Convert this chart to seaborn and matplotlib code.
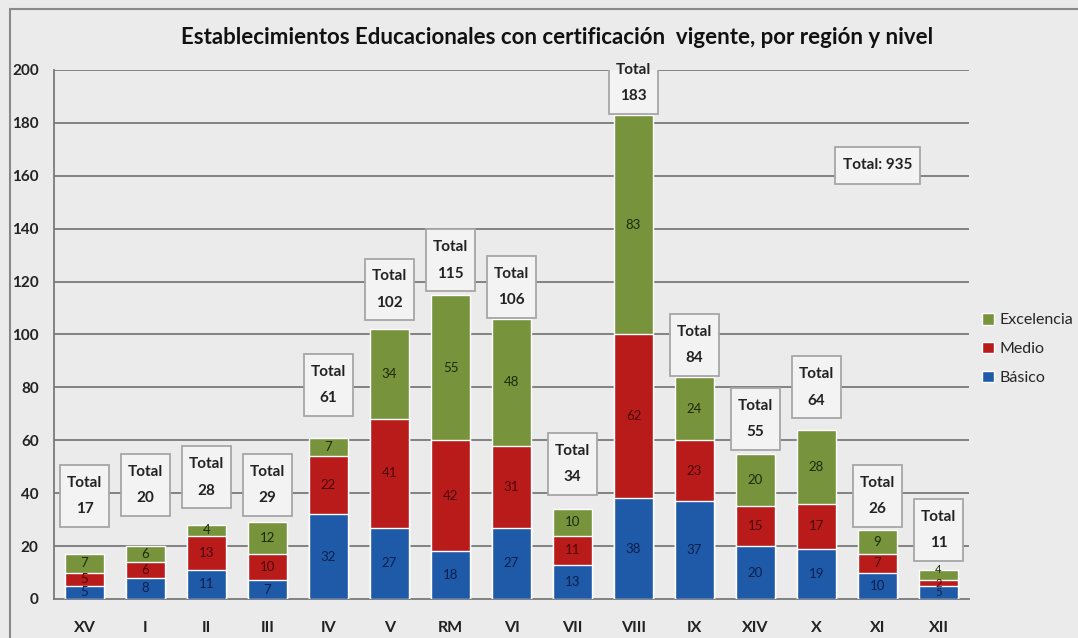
import matplotlib
matplotlib.use("Agg")
import matplotlib.pyplot as plt
from matplotlib.patches import Rectangle, Patch
import seaborn as sns
import pandas as pd

# Region order and counts per certification level
regions = ["XV", "I", "II", "III", "IV", "V", "RM", "VI", "VII", "VIII", "IX", "XIV", "X", "XI", "XII"]
basico = [5, 8, 11, 7, 32, 27, 18, 27, 13, 38, 37, 20, 19, 10, 5]
medio = [5, 6, 13, 10, 22, 41, 42, 31, 11, 62, 23, 15, 17, 7, 2]
excelencia = [7, 6, 4, 12, 7, 34, 55, 48, 10, 83, 24, 20, 28, 9, 4]
y_ticks = [0, 20, 40, 60, 80, 100, 120, 140, 160, 180, 200]

# Vertical centre (in axis units) of each "Total" callout box
callout_y = [39, 43, 46, 43, 81, 117, 128, 118, 51, 195, 96, 68, 80, 39, 26]

C_EXC = "#77933c"
C_MED = "#b91b1b"
C_BAS = "#1f5aa8"
BG = "#ebebeb"
GRID = "#7a7a7a"

sns.set_theme(style="white")
plt.rcParams["font.family"] = ["Lato", "DejaVu Sans"]

df = pd.DataFrame({
    "region": regions,
    "basico": basico,
    "medio": medio,
    "excelencia": excelencia,
})
df["cum_medio"] = df["basico"] + df["medio"]
df["total"] = df["cum_medio"] + df["excelencia"]

fig = plt.figure(figsize=(10.78, 6.38), dpi=100, facecolor=BG)
ax = fig.add_axes([54 / 1078, 1 - 599 / 638, (969 - 54) / 1078, (599 - 70) / 638])
ax.set_facecolor(BG)

# Outer frame of the chart area
fig.patches.append(Rectangle((10 / 1078, -0.1), 1.2, 1 - 9 / 638 + 0.1,
                             transform=fig.transFigure, fill=False,
                             edgecolor="#8a8a8a", linewidth=1.5, zorder=0))

for y in y_ticks[1:]:
    ax.axhline(y, color=GRID, linewidth=1.3, zorder=0)

bw = 0.64
# Stacked bars drawn as overlapping cumulative layers
sns.barplot(data=df, x="region", y="total", order=regions, color=C_EXC,
            width=bw, saturation=1, ax=ax, zorder=2)
sns.barplot(data=df, x="region", y="cum_medio", order=regions, color=C_MED,
            width=bw, saturation=1, ax=ax, zorder=3)
sns.barplot(data=df, x="region", y="basico", order=regions, color=C_BAS,
            width=bw, saturation=1, ax=ax, zorder=4)

# Segment value labels (thin stacks get smaller text, top label sits on the edge)
for i, row in df.iterrows():
    b, m, e = row["basico"], row["medio"], row["excelencia"]
    tiny = row["total"] < 15
    fs = 8 if tiny else 9.5
    y_b = b / 2
    y_m = b + m / 2
    y_e = b + m + (e if tiny else e / 2)
    ax.text(i, y_b, str(b), ha="center", va="center", fontsize=fs,
            color="#0b1f4d", zorder=6)
    ax.text(i, y_m, str(m), ha="center", va="center", fontsize=fs,
            color="#4a0808", zorder=6)
    ax.text(i, y_e, str(e), ha="center", va="center", fontsize=fs,
            color="#1c2a08", zorder=6)

# "Total" callout boxes
box_w, box_h = 0.79, 23.4
for i, (tot, cy) in enumerate(zip(df["total"], callout_y)):
    ax.add_patch(Rectangle((i - box_w / 2, cy - box_h / 2), box_w, box_h,
                           facecolor="#f3f3f3", edgecolor="#a6a6a6",
                           linewidth=1.3, zorder=7))
    ax.text(i, cy + 5, "Total", ha="center", va="center", fontsize=11,
            fontweight="bold", color="#222222", zorder=8)
    ax.text(i, cy - 5, str(tot), ha="center", va="center", fontsize=11,
            fontweight="bold", color="#222222", zorder=8)

grand_total = int(df["total"].sum())
ax.add_patch(Rectangle((13 - 0.7, 164 - 7), 1.4, 14, facecolor="#f3f3f3",
                       edgecolor="#a6a6a6", linewidth=1.3, zorder=7))
ax.text(13, 164, f"Total: {grand_total}", ha="center", va="center",
        fontsize=11, fontweight="bold", color="#222222", zorder=8)

ax.set_xlim(-0.5, 14.5)
ax.set_ylim(0, 200)
ax.set_yticks(y_ticks)
ax.set_yticklabels([str(v) for v in y_ticks], fontsize=11, fontweight="bold",
                   color="#222222")
ax.set_xticks(range(len(regions)))
ax.set_xticklabels(regions, fontsize=11.5, fontweight="bold", color="#222222")
ax.tick_params(axis="x", length=0, pad=16)
ax.tick_params(axis="y", length=0, pad=11)
ax.set_xlabel("")
ax.set_ylabel("")

for side in ["top", "right"]:
    ax.spines[side].set_visible(False)
for side in ["left", "bottom"]:
    ax.spines[side].set_color(GRID)
    ax.spines[side].set_linewidth(1.3)

fig.text(557 / 1078, 1 - 38 / 638,
         "Establecimientos Educacionales con certificación  vigente, por región y nivel",
         ha="center", va="center", fontsize=16, fontweight="bold", color="#111111")

handles = [Patch(facecolor=C_EXC, label="Excelencia"),
           Patch(facecolor=C_MED, label="Medio"),
           Patch(facecolor=C_BAS, label="Básico")]
fig.legend(handles=handles, loc="center left", bbox_to_anchor=(976 / 1078, 1 - 349 / 638),
           frameon=False, fontsize=11.5, handlelength=0.75, handleheight=0.75,
           handletextpad=0.3, labelspacing=0.9, borderaxespad=0)

fig.savefig("out.png", dpi=100, facecolor=BG)
